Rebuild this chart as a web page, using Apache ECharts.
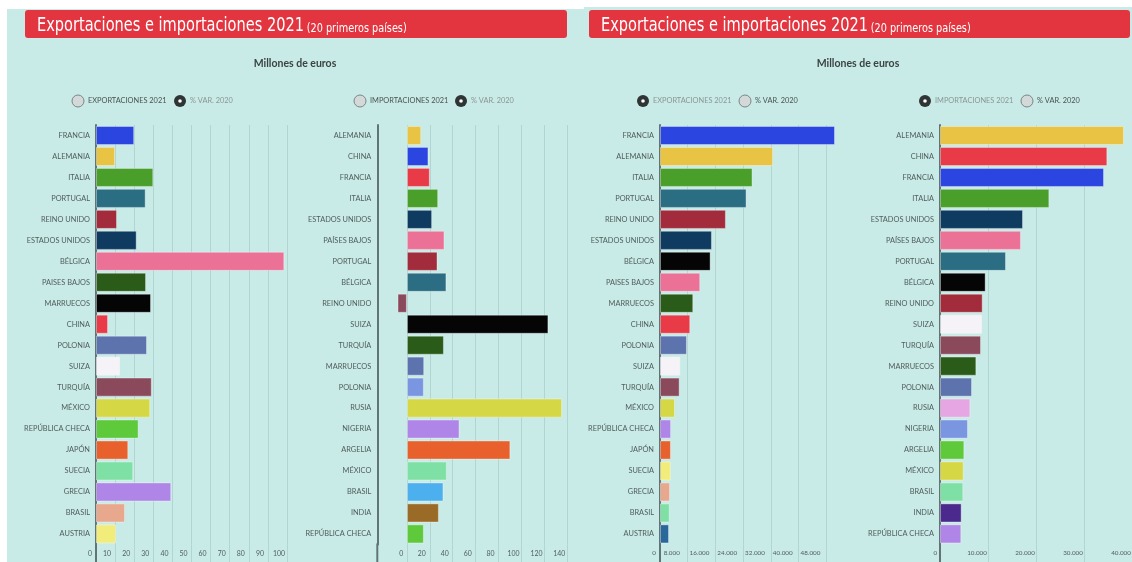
<!DOCTYPE html>
<html><head><meta charset="utf-8">
<script src="https://cdn.jsdelivr.net/npm/echarts@6/dist/echarts.min.js"></script>
<style>html,body{margin:0;padding:0;background:#fff}#c{width:1132px;height:562px}</style>
</head><body><div id="c"></div>
<script>
// ---------- DATA ----------
const expCategories = ['FRANCIA','ALEMANIA','ITALIA','PORTUGAL','REINO UNIDO','ESTADOS UNIDOS','BÉLGICA','PAISES BAJOS','MARRUECOS','CHINA','POLONIA','SUIZA','TURQUÍA','MÉXICO','REPÚBLICA CHECA','JAPÓN','SUECIA','GRECIA','BRASIL','AUSTRIA'];
const impCategories = ['ALEMANIA','CHINA','FRANCIA','ITALIA','ESTADOS UNIDOS','PAÍSES BAJOS','PORTUGAL','BÉLGICA','REINO UNIDO','SUIZA','TURQUÍA','MARRUECOS','POLONIA','RUSIA','NIGERIA','ARGELIA','MÉXICO','BRASIL','INDIA','REPÚBLICA CHECA'];
// % variación 2021 vs 2020
const expVar2020 = [20, 10, 30, 26, 11, 21.3, 98.6, 26.2, 28.8, 6.3, 26.7, 12.6, 29.2, 28.4, 22.3, 16.9, 19.5, 39.4, 15.2, 10.5];
const impVar2020 = [12.5, 18.8, 20, 27.3, 22, 32.8, 26.7, 34.5, -8.2, 123.5, 32.3, 15.1, 14.8, 135.4, 45.9, 90.3, 34.9, 31.9, 27.9, 14.8];
// Millones de euros 2021
const exp2021 = [50450, 32600, 26680, 24950, 19000, 14970, 14590, 11600, 9590, 8720, 7770, 5850, 5660, 4320, 3200, 3150, 3120, 2900, 2800, 2600];
const imp2021 = [38330, 34860, 34170, 22780, 17290, 16870, 13750, 9510, 8890, 8750, 8540, 7570, 6670, 6320, 5830, 5070, 4930, 4860, 4510, 4440];
// tick labels
const ticksExpVar = [0, 10, 20, 30, 40, 50, 60, 70, 80, 90, 100];
const ticksImpVar = [0, 20, 40, 60, 80, 100, 120, 140];
const ticksExp2021 = [0, 8000, 16000, 24000, 32000, 40000, 48000];
const ticksImp2021 = [0, 10000, 20000, 30000, 40000];

// colours per bar
const C = {blue:'#2b45e0', yellow:'#e9c444', green:'#4a9f2b', teal:'#2b6e83', darkred:'#a22c3c', navy:'#0f3b60', pink:'#ec7196', darkgreen:'#2a5b19', black:'#050505', red:'#e93a48', slate:'#5c73ad', white:'#f5f2f8', maroon:'#8a4a5c', ygreen:'#d5d745', green2:'#5dc93b', orange:'#e8612d', mint:'#7fe0a6', lavender:'#b085e8', salmon:'#e8a88e', lyellow:'#f2ed7a', dblue:'#2a679a', lblue:'#7b96e0', sky:'#4cb0ef', brown:'#9a6a27', pinkl:'#e5a6e3', dpurple:'#4a2a8c'};
const expVarColors = [C.blue,C.yellow,C.green,C.teal,C.darkred,C.navy,C.pink,C.darkgreen,C.black,C.red,C.slate,C.white,C.maroon,C.ygreen,C.green2,C.orange,C.mint,C.lavender,C.salmon,C.lyellow];
const impVarColors = [C.yellow,C.blue,C.red,C.green,C.navy,C.pink,C.darkred,C.teal,C.maroon,C.black,C.darkgreen,C.slate,C.lblue,C.ygreen,C.lavender,C.orange,C.mint,C.sky,C.brown,C.green2];
const exp2021Colors = [C.blue,C.yellow,C.green,C.teal,C.darkred,C.navy,C.black,C.pink,C.darkgreen,C.red,C.slate,C.white,C.maroon,C.ygreen,C.lavender,C.orange,C.lyellow,C.salmon,C.mint,C.dblue];
const imp2021Colors = [C.yellow,C.red,C.blue,C.green,C.navy,C.pink,C.teal,C.black,C.darkred,C.white,C.maroon,C.darkgreen,C.slate,C.pinkl,C.lblue,C.green2,C.ygreen,C.mint,C.dpurple,C.lavender];

// ---------- STYLE ----------
const BG = '#c8ebe7', GRID = '#b1d5d1', AXIS = '#637474', LBL = '#515d5d';
const FONT = 'Lato, "Open Sans", sans-serif';
const TITLE_FONT = '"DejaVu Sans Condensed", "DejaVu Sans", sans-serif';
const TOP = 125, H = 419.4, BOTTOM = TOP + H;

function thousands(v){ return String(v).replace(/\B(?=(\d{3})+(?!\d))/g, '.'); }

function xAxisCfg(idx, min, max, interval, ticks, shift0, shift, fs){
  const nLines = Math.round((max - min) / interval) + 1 + ((max - min) % interval ? 1 : 0);
  const cols = [];
  for (let i = 0; i < nLines; i++) cols.push(GRID);
  if ((max - min) % interval) cols[nLines - 1] = 'rgba(0,0,0,0)';
  return {
    type:'value', gridIndex: idx, min, max, interval,
    axisLine:{show:false},
    axisTick:{show:true, length:18, lineStyle:{color:GRID, width:1}, customValues: ticks},
    splitLine:{show:true, lineStyle:{color: cols, width:1}},
    axisLabel:{
      margin:6, color:LBL, fontFamily:FONT, fontSize:fs,
      formatter: v => ticks.indexOf(v) < 0 ? '' : (v === 0 ? '{z|0}' : '{n|' + thousands(v) + '}'),
      rich:{
        z:{padding:[0, shift0*2, 0, 0], fontSize:fs, color:LBL, fontFamily:FONT},
        n:{padding:[0, shift*2, 0, 0], fontSize:fs, color:LBL, fontFamily:FONT}
      }
    }
  };
}
function yAxisCfg(idx, cats, offset){
  return {
    type:'category', gridIndex: idx, data: cats, inverse:true, offset: offset || 0,
    axisLine:{show:true, onZero:false, lineStyle:{color:AXIS, width:2}},
    axisTick:{show:false},
    splitLine:{show:false},
    axisLabel:{margin:6, color:LBL, fontFamily:FONT, fontSize:7.4}
  };
}
function barSeries(idx, vals, cols){
  return {
    type:'bar', xAxisIndex: idx, yAxisIndex: idx, barCategoryGap:'9%',
    data: vals.map((v, i) => ({value: v, itemStyle:{color: cols[i]}})),
    itemStyle:{borderColor:'rgba(255,255,255,0.35)', borderWidth:1},
    silent:true, animation:false
  };
}

const grids = [
  {left:96, top:TOP, width:191, height:H},
  {left:384, top:TOP, width:183.3, height:H},
  {left:660, top:TOP, width:187.3, height:H},
  {left:940, top:TOP, width:192, height:H}
].map(g => Object.assign(g, {containLabel:false, outerBoundsMode:'none'}));

// ---------- DECORATION ----------
function radio(x, y, filled){
  const els = [{type:'circle', shape:{cx:x, cy:y, r:6}, style: filled ? {fill:'#2f3434'} : {fill:'#d3d8d8', stroke:'#7d8585', lineWidth:1}}];
  if (filled) els.push({type:'circle', shape:{cx:x, cy:y, r:1.8}, style:{fill:'#ffffff'}});
  return els;
}
function txt(x, y, text, fs, color, extra){
  return {type:'text', x, y, style:Object.assign({text, fontSize:fs, fill:color, fontFamily:FONT, align:'left', verticalAlign:'middle'}, extra || {})};
}
function titleBar(x, w){
  return [
    {type:'rect', shape:{x, y:10, width:w, height:28, r:3}, style:{fill:'#e2353f'}},
    {type:'text', x: x + 12, y: 36, scaleX: 0.83, style:{
      text:'{a|Exportaciones e importaciones 2021} {b|(20 primeros países)}',
      align:'left', verticalAlign:'bottom',
      rich:{
        a:{fontSize:19.5, fill:'#ffffff', fontFamily:TITLE_FONT, verticalAlign:'bottom'},
        b:{fontSize:13, fill:'#ffffff', fontFamily:TITLE_FONT, verticalAlign:'bottom', padding:[0,0,1,0]}
      }}}
  ];
}
const DARK = '#4b5353', LIGHT = '#8b9696';
const graphics = [].concat(
  [{type:'rect', shape:{x:7, y:9, width:1125, height:553}, style:{fill:BG}, z:-10},
   {type:'rect', shape:{x:584, y:7, width:548, height:4}, style:{fill:BG}, z:-10}],
  titleBar(25, 542), titleBar(589, 541),
  [txt(295, 64, 'Millones de euros', 10.5, '#3b4343', {align:'center', fontWeight:'bold'}),
   txt(858, 64, 'Millones de euros', 10.5, '#3b4343', {align:'center', fontWeight:'bold'})],
  radio(78, 101, false), [txt(88, 101, 'EXPORTACIONES 2021', 7.4, DARK)],
  radio(180, 101, true), [txt(190, 101, '% VAR. 2020', 7.4, LIGHT)],
  radio(360, 101, false), [txt(370, 101, 'IMPORTACIONES 2021', 7.4, DARK)],
  radio(461, 101, true), [txt(471, 101, '% VAR. 2020', 7.4, LIGHT)],
  radio(643, 101, true), [txt(653, 101, 'EXPORTACIONES 2021', 7.4, LIGHT)],
  radio(745, 101, false), [txt(755, 101, '% VAR. 2020', 7.4, DARK)],
  radio(925, 101, true), [txt(935, 101, 'IMPORTACIONES 2021', 7.4, LIGHT)],
  radio(1027, 101, false), [txt(1037, 101, '% VAR. 2020', 7.4, DARK)],
  [96, 377.3, 660, 940].map(x => ({type:'line', shape:{x1:x, y1:BOTTOM - 1, x2:x, y2:562}, style:{stroke:AXIS, lineWidth:2}, z:5}))
);
graphics.forEach(g => { if (g.z === undefined) g.z = 10; });

const chart = echarts.init(document.getElementById('c'), null, {renderer:'canvas'});
chart.setOption({
  animation:false,
  backgroundColor:'#ffffff',
  grid: grids,
  xAxis: [
    xAxisCfg(0, 0, 100, 10, ticksExpVar, 6, 8, 6.9),
    xAxisCfg(1, -20, 140, 20, ticksImpVar, 5.7, 8, 6.9),
    xAxisCfg(2, 0, 54000, 8000, ticksExp2021, 6, 16, 6.3),
    xAxisCfg(3, 0, 40000, 10000, ticksImp2021, 4.7, 11, 6.3)
  ],
  yAxis: [
    yAxisCfg(0, expCategories, 0),
    yAxisCfg(1, impCategories, 6.7),
    yAxisCfg(2, expCategories, 0),
    yAxisCfg(3, impCategories, 0)
  ],
  series: [
    barSeries(0, expVar2020, expVarColors),
    barSeries(1, impVar2020, impVarColors),
    barSeries(2, exp2021, exp2021Colors),
    barSeries(3, imp2021, imp2021Colors)
  ],
  graphic: graphics
});
</script></body></html>
